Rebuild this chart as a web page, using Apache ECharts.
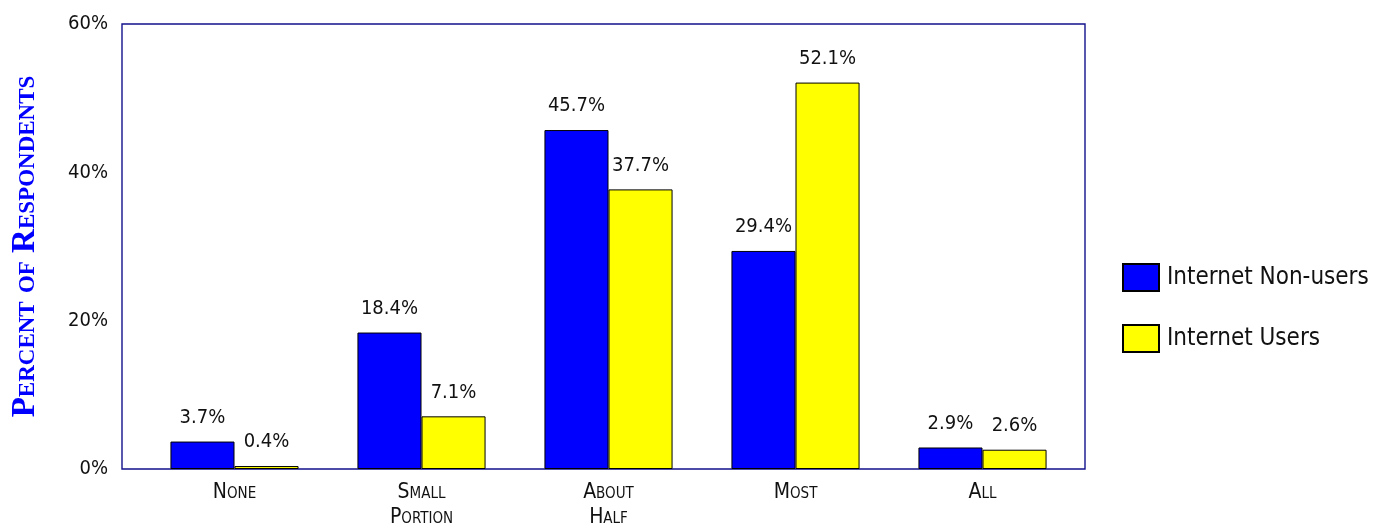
<!DOCTYPE html>
<html>
<head>
<meta charset="utf-8">
<script src="https://cdn.jsdelivr.net/npm/echarts@6/dist/echarts.min.js"></script>
<style>
  html, body { margin: 0; padding: 0; background: #fff; }
  #chart { width: 1385px; height: 532px; }
</style>
</head>
<body>
<div id="chart"></div>
<script>
// Share of respondents by category, split by internet use
const categories = ['None', 'Small\nPortion', 'About\nHalf', 'Most', 'All'];
const nonUsers = [3.7, 18.4, 45.7, 29.4, 2.9];
const users = [0.4, 7.1, 37.7, 52.1, 2.6];
const seriesNames = ['Internet Non-users', 'Internet Users'];
const yTicks = { min: 0, max: 60, interval: 20 };

const NARROW = "'Liberation Sans Narrow', 'DejaVu Sans Condensed', 'Liberation Sans', sans-serif";
const FRAME = '#12128c';

const chart = echarts.init(document.getElementById('chart'), null, { renderer: 'canvas' });

function barSeries(name, data, color) {
  return {
    name: name,
    type: 'bar',
    xAxisIndex: 1,
    yAxisIndex: 1,
    data: data,
    barGap: '0%',
    barCategoryGap: '31.5%',
    itemStyle: { color: color, borderColor: '#000', borderWidth: 1 },
    label: {
      show: true,
      position: 'top',
      distance: 14,
      color: '#111',
      fontFamily: NARROW,
      fontSize: 20,
      formatter: p => p.value.toFixed(1) + '%'
    }
  };
}

chart.setOption({
  animation: false,
  backgroundColor: '#fff',
  grid: [
    // outer frame carrying the value scale
    { left: 122, right: 300, top: 24, bottom: 63, outerBoundsMode: 'none', containLabel: false,
      show: true, borderColor: FRAME, borderWidth: 1.4, backgroundColor: 'transparent' },
    // inset band where the category groups sit
    { left: 141, right: 309, top: 24, bottom: 63, outerBoundsMode: 'none', containLabel: false }
  ],
  legend: {
    orient: 'vertical',
    left: 1117,
    top: 258,
    icon: 'rect',
    itemWidth: 36,
    itemHeight: 27,
    itemGap: 32,
    textStyle: { fontFamily: NARROW, fontSize: 24, color: '#111', padding: [0, 0, 0, 3] },
    data: seriesNames
  },
  xAxis: [
    { type: 'value', gridIndex: 0, show: false, min: 0, max: 1 },
    {
      type: 'category',
      gridIndex: 1,
      data: categories,
      axisLine: { show: false },
      axisTick: { show: false },
      axisLabel: {
        color: '#111',
        fontFamily: NARROW,
        fontStyle: 'normal small-caps',
        fontSize: 21,
        lineHeight: 25,
        margin: 11
      }
    }
  ],
  yAxis: [
    {
      type: 'value',
      gridIndex: 0,
      min: yTicks.min, max: yTicks.max, interval: yTicks.interval,
      name: 'Percent of Respondents',
      nameLocation: 'middle',
      nameGap: 80,
      nameTextStyle: {
        color: '#0000ff',
        fontFamily: "'Liberation Serif', 'DejaVu Serif', serif",
        fontWeight: 'bold',
        fontStyle: 'normal small-caps',
        fontSize: 33
      },
      axisLine: { show: false },
      axisTick: { show: false },
      splitLine: { show: false },
      axisLabel: {
        color: '#111',
        fontFamily: NARROW,
        fontSize: 20,
        margin: 14,
        formatter: v => v + '%'
      }
    },
    {
      type: 'value',
      gridIndex: 1,
      min: yTicks.min, max: yTicks.max, interval: yTicks.interval,
      show: false
    }
  ],
  series: [
    barSeries(seriesNames[0], nonUsers, '#0000ff'),
    barSeries(seriesNames[1], users, '#ffff00')
  ]
});
</script>
</body>
</html>
